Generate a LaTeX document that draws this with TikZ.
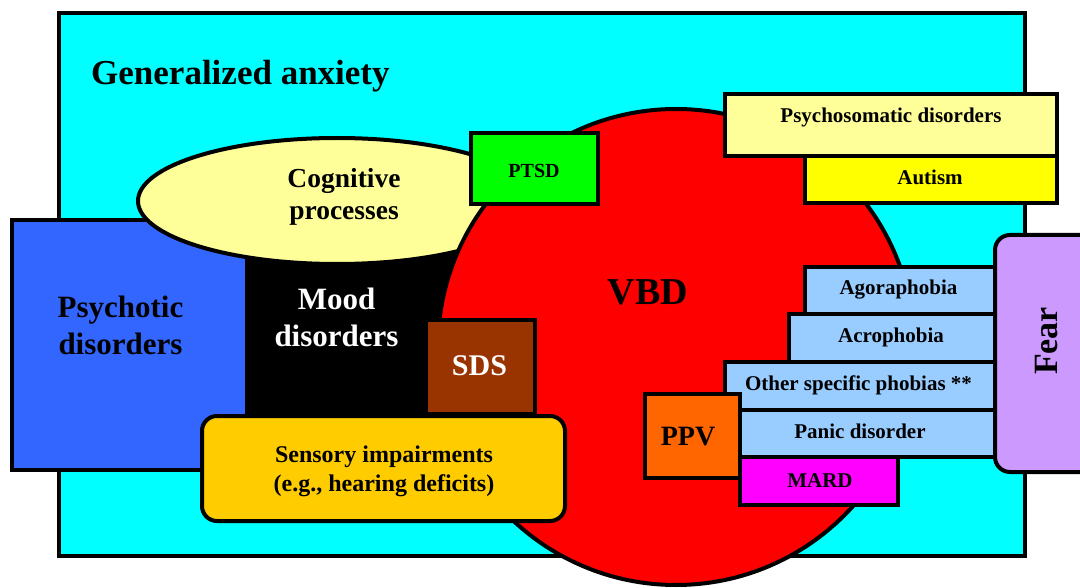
\documentclass[tikz,border=0pt]{standalone}
\usepackage{fontspec}
\setmainfont{Liberation Serif}
\newcommand\fsz[1]{\fontsize{#1}{#1}\selectfont\bfseries}
\definecolor{cyanc}{HTML}{00FFFF}
\definecolor{blueC}{HTML}{3366FF}
\definecolor{creamC}{HTML}{FFFF99}
\definecolor{redC}{HTML}{FF0000}
\definecolor{greenC}{HTML}{00FF00}
\definecolor{yellowC}{HTML}{FFFF00}
\definecolor{brownC}{HTML}{993300}
\definecolor{goldC}{HTML}{FFCC00}
\definecolor{orangeC}{HTML}{FF6600}
\definecolor{magentaC}{HTML}{FF00FF}
\definecolor{lblueC}{HTML}{99CCFF}
\definecolor{purpleC}{HTML}{CC99FF}
\tikzset{
  region/.style={draw=black, line width=4pt},
  lbl/.style={inner sep=0pt, anchor=base, text=black},
}
\begin{document}
\begin{tikzpicture}[x=1pt,y=-1pt]
\useasboundingbox (0,0) rectangle (1080,588);
\clip (0,0) rectangle (1080,588);
% generalized anxiety background
\draw[region, fill=cyanc] (59,13) rectangle (1025,556);
% psychotic disorders
\draw[region, fill=blueC] (12,220) rectangle (247,470);
% mood disorders (black)
\fill[black] (247,240) rectangle (500,430);
% cognitive processes
\draw[region, fill=creamC] (337,201) ellipse [x radius=199, y radius=63];
% VBD circle
\draw[region, fill=redC] (676,347) circle [radius=238];
% PTSD
\draw[region, fill=greenC] (471,133) rectangle (598,204);
% psychosomatic & autism
\draw[region, fill=creamC] (725,94) rectangle (1057,156);
\draw[region, fill=yellowC] (805,156) rectangle (1057,203);
% SDS
\draw[region, fill=brownC] (426,320) rectangle (535,414);
% sensory impairments
\draw[region, fill=goldC, rounded corners=15pt] (202,416) rectangle (565,521);
% phobia boxes
\draw[region, fill=lblueC] (805,267) rectangle (995,314);
\draw[region, fill=lblueC] (789,314) rectangle (995,362);
\draw[region, fill=lblueC] (725,362) rectangle (995,410);
\draw[region, fill=lblueC] (740,410) rectangle (995,457);
% MARD
\draw[region, fill=magentaC] (740,457) rectangle (898,505);
% PPV
\draw[region, fill=orangeC] (645,394) rectangle (740,478);
% Fear
\draw[region, fill=purpleC, rounded corners=15pt] (995,235) rectangle (1100,472);

% labels
\node[lbl, anchor=base west, font=\fsz{35}] (ga) at (91,85) {Generalized anxiety};
\node[lbl, font=\fsz{27.5}] (cog1) at (344,188) {Cognitive};
\node[lbl, font=\fsz{27.5}] (cog2) at (344,220) {processes};
\node[lbl, font=\fsz{20}] (ptsd) at (534,178) {PTSD};
\node[lbl, font=\fsz{21}] (psm) at (891,123) {Psychosomatic disorders};
\node[lbl, font=\fsz{21}] (aut) at (930,185) {Autism};
\node[lbl, font=\fsz{38}] (vbd) at (648,305) {VBD};
\node[lbl, font=\fsz{31}] (psy1) at (120.5,318) {Psychotic};
\node[lbl, font=\fsz{31}] (psy2) at (120.5,355) {disorders};
\node[lbl, text=white, font=\fsz{31}] (mood1) at (336.5,310) {Mood};
\node[lbl, text=white, font=\fsz{31}] (mood2) at (336.5,347) {disorders};
\node[lbl, text=white, font=\fsz{30}] (sds) at (479.5,375) {SDS};
\node[lbl, font=\fsz{24}] (sen1) at (384,462) {Sensory impairments};
\node[lbl, font=\fsz{24}] (sen2) at (384,491) {(e.g., hearing deficits)};
\node[lbl, font=\fsz{21}] (ago) at (898.5,295) {Agoraphobia};
\node[lbl, font=\fsz{21}] (acro) at (891,343) {Acrophobia};
\node[lbl, font=\fsz{21}] (osp) at (858.5,390) {Other specific phobias **};
\node[lbl, font=\fsz{21}] (pan) at (860,438) {Panic disorder};
\node[lbl, font=\fsz{21}] (mard) at (820,487) {MARD};
\node[lbl, font=\fsz{28}] (ppv) at (688,445) {PPV};
\node[inner sep=0pt, rotate=90, font=\fsz{34}] (fear) at (1047,341) {Fear};
\end{tikzpicture}
\end{document}
